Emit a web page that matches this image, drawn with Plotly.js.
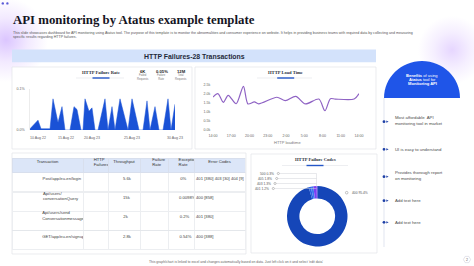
<!DOCTYPE html>
<html><head><meta charset="utf-8">
<script src="https://cdn.plot.ly/plotly-3.0.1.min.js"></script>
<style>
html,body{margin:0;padding:0;width:474px;height:266px;overflow:hidden;background:#fff;}
#bg{position:absolute;left:0;top:0;width:474px;height:266px;
background:
 radial-gradient(circle at 6px 40px, rgba(190,150,255,0.55) 0, rgba(205,170,255,0.25) 22px, rgba(205,170,255,0) 42px),
 radial-gradient(circle at 452px 50px, rgba(200,165,255,0.45) 0, rgba(200,165,255,0.18) 18px, rgba(200,165,255,0) 34px);}
#chart{position:absolute;left:0;top:0;width:474px;height:266px;}
#tbl{position:absolute;left:0;top:0;width:1896px;height:1064px;transform:scale(0.25);transform-origin:0 0;pointer-events:none;}
</style></head><body><div id="bg"></div><div id="chart"></div><div id="tbl"></div>
<script>
// ---------- data ----------
const failureIdx  = [0,8,11,20,23,28,32,35,40,44,47,51,53,55,59,62,65,68,75,78,82,85,90,98,102,109,113,117,120,125,129,133,138,141,145];
const failureRate = [0.003,0.024,0.003,0.003,0.076,0.018,0.057,0,0,0.057,0.05,0,0,0.076,0.046,0.054,0,0,0.076,0,0.057,0,0.076,0,0.076,0,0,0.071,0,0.057,0,0,0.076,0,0.063];
const failureTickPos  = [8,36,62,102,145];
const failureTickText = ['10 Aug 22','15 Aug 22','20 Aug 23','25 Aug 23','30 Aug 23'];
const rateTickVals = [0,0.1];
const rateTickText = ['0.0%','0.1%'];

const statValues = ['6K','0.05%','12M'];
const statLabels = ['Failed<br>Requests','Failure<br>Rate','Total<br>Requests'];

const loadHours = [0,0.8,1.7,2.5,3.8,5.0,5.75,6.8,7.5,10.5,11.9,13.6,15.2,17.4,18.4,19.3,20.1,23.2,24];
const loadTimeK = [1.79,1.98,1.5,1.89,1.42,2.39,1.41,1.52,1.41,1.78,1.59,1.83,1.41,1.68,1.03,1.7,1.68,1.68,1.98];
const hourTickVals = [0,3,6,9,12,15,18,21,24];
const hourTickText = ['14:00','17:00','20:00','23:00','2:00','5:00','8:00','11:00','14:00'];
const loadTickVals = [0,0.5,1,1.5,2,2.5];
const loadTickText = ['0.0k','0.5k','1.0k','1.5k','2.0k','2.5k'];

const tableHeader   = ['Transaction','HTTP<br>Failures','Throughput','Failure<br>Rate','Exception<br>Rate','Error Codes'];
const transactions  = ['Post/app/eu-en/login','Api/users/<br>conversationQuery','Api/users/send<br>Conversationmessage','GET/app/eu-en/signup'];
const httpFailures  = ['3k','2k','475','248'];
const failureBarLevel = [0.88,0.38,0.97,1.0];
const throughput    = ['5.6k','15k','2k','2.8k'];
const failureRates  = ['40%','21%','27%','8%'];
const failureRateBarLevel = [1.0,0.38,0.46,0.09];
const exceptionRate = ['0%','0.0098%','0.2%','0.54%'];
const errorCodes    = ['401 [380] 403 [30] 404 [9]','400 [858]','401 [380]','400 [388]'];

const codeLabels = ['400','401','403','405','500'];
const codeShare  = [95.4,1.2,1.3,1.8,0.3];
const codeColors = ['#1546b8','#2a64e4','#3d78ef','#7b3ff2','#9a4dff'];

const benefits = ['Most affordable  API<br>monitoring tool in market','UI is easy to understand','Provides thorough report<br>on monitoring','Add text here','Add text here'];

// ---------- helpers ----------
const W=474,H=266,S=4;
const X=v=>v/W, Y=v=>1-v/H;
const SANS='Liberation Sans, Arial, sans-serif';
const SERIF='Liberation Serif, Times New Roman, serif';
const shapes=[], annotations=[];
function rect(x0,y0,x1,y1,fill,lc,lw,layer){shapes.push({type:'rect',xref:'paper',yref:'paper',x0:X(x0),x1:X(x1),y0:Y(y1),y1:Y(y0),fillcolor:fill,line:{color:lc||'rgba(0,0,0,0)',width:lw||0},layer:layer||'below'});}
function seg(x0,y0,x1,y1,color,w){shapes.push({type:'line',xref:'paper',yref:'paper',x0:X(x0),x1:X(x1),y0:Y(y0),y1:Y(y1),line:{color:color,width:w}});}
function circ(cx,cy,r,fill,lc,lw){shapes.push({type:'circle',xref:'paper',yref:'paper',x0:X(cx-r),x1:X(cx+r),y0:Y(cy+r),y1:Y(cy-r),fillcolor:fill,line:{color:lc||'rgba(0,0,0,0)',width:lw||0}});}
function poly(pts,fill,lc,lw){shapes.push({type:'path',xref:'paper',yref:'paper',path:pts.map((p,i)=>(i?'L':'M')+X(p[0])+','+Y(p[1])).join(' ')+' Z',fillcolor:fill,line:{color:lc||'rgba(0,0,0,0)',width:lw||0}});}
function txt(x,y,t,size,color,o){o=o||{};annotations.push({xref:'paper',yref:'paper',x:X(x),y:Y(y),text:t,showarrow:false,font:{size:size,color:color,family:o.family||SANS},xanchor:o.xa||'center',yanchor:o.ya||'middle',align:o.align||'center'});}

// ---------- decorations ----------
circ(2.8,3.4,1.2,'#5a5ad8'); circ(7.4,3.4,1.2,'#5a5ad8');
txt(11,19.5,'<b>API monitoring by Atatus example template</b>',12.8,'#15151f',{family:SERIF,xa:'left'});
txt(11,33,'This slide showcases dashboard for API monitoring using Atatus tool. The purpose of this template is to monitor the abnormalities and consumer experience on website. It helps in providing business teams with required data by collecting and measuring',3.6,'#555',{xa:'left'});
txt(11,37.5,'specific results regarding HTTP failures.',3.6,'#555',{xa:'left'});

rect(12,49.5,376,62.3,'#d3e2fb');
txt(194,56,'<b>HTTP Failures-28 Transactions</b>',6.9,'#1f2a3a');

// panels
rect(12,67,192,149,'#ffffff','#e2e4e8',0.7);
rect(195,67,376,149,'#ffffff','#e2e4e8',0.7);
rect(12,153,246,254,'#ffffff','#e2e4e8',0.7);
rect(251,154,377,253,'#ffffff','#e2e4e8',0.7);

// panel titles
function panelTitle(cx,y,t,g0,g1){
  txt(cx,y,'<b>'+t+'</b>',4.6,'#2a2f3a',{family:SERIF});
  seg(g0,y+6,g1,y+6,'#e1e3e8',0.6);
  seg(cx-8.5,y+6,cx+8.5,y+6,'#2456c8',1.4);
}
panelTitle(101,72,'HTTP Failure Rate',76,124);
panelTitle(285.7,72,'HTTP Load Time',257,312);
panelTitle(315,159.5,'HTTP Failure Codes',282,348);

const statX=[142.5,161.7,181.2];
statValues.forEach((v,i)=>{txt(statX[i],71.5,'<b>'+v+'</b>',4.2,'#222');txt(statX[i],76.8,statLabels[i],2.7,'#777');});

txt(287,142,'HTTP loadtime',4,'#777');

// pie leader labels
const leftOrder=[4,3,2,1];
const leftY=[173.5,178.5,183.5,188.5];
const circX=[278.3,276.7,275,273.3];
leftOrder.forEach((k,j)=>{
  txt(circX[j]-2.4,leftY[j],codeLabels[k]+' '+codeShare[k]+'%',3.3,'#555',{xa:'right'});
  seg(circX[j]+1.1,leftY[j],316.5,leftY[j],'#d0d3d9',0.5);
  circ(circX[j],leftY[j],1.05,'#ffffff','#888',0.5);
});
seg(316.5,173.5,316.5,186.5,'#d0d3d9',0.5);
circ(346.7,192.7,1.3,'#ffffff','#888',0.5);
txt(349.6,192.7,codeLabels[0]+' '+codeShare[0]+'%',3.3,'#555',{xa:'left'});

// right side benefits
const k=0.5523;
shapes.push({type:'path',xref:'paper',yref:'paper',
  path:'M'+X(384)+','+Y(98)+' C'+X(384)+','+Y(98-37*k)+' '+X(422-38*k)+','+Y(61)+' '+X(422)+','+Y(61)+
       ' C'+X(422+38*k)+','+Y(61)+' '+X(460)+','+Y(98-37*k)+' '+X(460)+','+Y(98)+' Z',
  fillcolor:'#1f55e8',line:{width:0}});
txt(422,75.7,'<b>Benefits</b> of using',4.1,'#ffffff');
txt(422,79.7,'<b>Atatus</b> tool for',4.1,'#ffffff');
txt(422,83.7,'<b>Monitoring API</b>',4.1,'#ffffff');
seg(384,98,384,247,'#ccd5e6',0.6);
const bulletY=[121.7,149.3,176.7,200.7,222.3];
benefits.forEach((b,i)=>{
  circ(384,bulletY[i],1.4,'#1d3fa6');
  poly([[386.3,bulletY[i]-1.1],[388.6,bulletY[i]],[386.3,bulletY[i]+1.1]],'#1d3fa6');
  txt(393,bulletY[i]+(b.indexOf('<br>')>0?-1.2:0),b,4.3,'#4a4a4a',{xa:'left',align:'left'});
});

// footer + page number
txt(236,262,"This graph/chart is linked to excel and changes automatically based on data. Just left click on it and select 'edit data'",3.4,'#666');
const hx=467,hy=259.5,hr=3.6;
poly([0,1,2,3,4,5].map(i=>[hx+hr*Math.cos(Math.PI/3*i),hy+hr*Math.sin(Math.PI/3*i)]),'#ffffff','#c9c9d6',0.5);
txt(hx,hy,'2',3.6,'#666');

// ---------- main traces ----------
const tickFont={size:3.6,color:'#666',family:SANS};
const traces=[
 {type:'scatter',mode:'lines',x:failureIdx,y:failureRate,fill:'tozeroy',fillcolor:'#1a52d6',line:{color:'#1a52d6',width:0.5},xaxis:'x',yaxis:'y',hoverinfo:'none'},
 {type:'scatter',mode:'lines',x:loadHours,y:loadTimeK,line:{color:'#8f63c4',width:1.2,shape:'spline',smoothing:0.8},xaxis:'x2',yaxis:'y2',hoverinfo:'none'},
 {type:'pie',labels:codeLabels,values:codeShare,hole:0.59,sort:false,direction:'clockwise',rotation:0,marker:{colors:codeColors,line:{width:0}},textinfo:'none',hoverinfo:'none',domain:{x:[X(287),X(347.5)],y:[Y(246.5),Y(186)]}}
];
const layout={
 width:W,height:H,margin:{l:0,r:0,t:0,b:0},paper_bgcolor:'rgba(0,0,0,0)',plot_bgcolor:'rgba(0,0,0,0)',showlegend:false,
 xaxis:{domain:[X(30),X(175)],range:[0,145],tickvals:failureTickPos,ticktext:failureTickText,tickfont:tickFont,showgrid:false,zeroline:false,ticks:'outside',ticklen:4,tickcolor:'rgba(0,0,0,0)',showline:false},
 yaxis:{domain:[Y(130),Y(89)],range:[0,0.1],tickvals:rateTickVals,ticktext:rateTickText,tickfont:tickFont,showgrid:false,zeroline:false,ticks:'outside',ticklen:4,tickcolor:'rgba(0,0,0,0)',showline:true,linecolor:'#e0e0e0',linewidth:0.6},
 xaxis2:{domain:[X(213),X(359)],range:[0,24],tickvals:hourTickVals,ticktext:hourTickText,tickfont:tickFont,showgrid:false,zeroline:false,ticks:'outside',ticklen:2,tickcolor:'rgba(0,0,0,0)',anchor:'y2'},
 yaxis2:{domain:[Y(129.3),Y(84.3)],range:[0,2.5],tickvals:loadTickVals,ticktext:loadTickText,tickfont:tickFont,showgrid:false,zeroline:false,ticks:'outside',ticklen:1,tickcolor:'rgba(0,0,0,0)',anchor:'x2'},
 shapes:shapes,annotations:annotations
};
Plotly.newPlot('chart',traces,layout,{staticPlot:true,displayModeBar:false});

// ---------- table (drawn at 4x, scaled down by CSS) ----------
// Plotly tables top-align text; single-line cells get one leading break so they sit mid-row.
const mid=s=>(s===''||s.indexOf('<br>')>=0)?s:'<br>'+s;
const nb=s=>s.replace(/ /g,'\u00a0');
const blank=['','','',''];
const tFont={size:4.2*S,color:'#444',family:SANS};
const tblTraces=[
 {type:'table',domain:{x:[X(12),X(245)],y:[Y(250),Y(158)]},columnwidth:[71,25,32,28,26,51],
  header:{values:tableHeader,fill:{color:'#dce6f8'},line:{color:'#d5dbe6',width:0.6*S},font:{size:4.2*S,color:'#333',family:SANS},height:14.7*S,align:'center'},
  cells:{values:[transactions.map(mid),blank,throughput.map(mid),blank,exceptionRate.map(mid),errorCodes.map(nb).map(mid)],fill:{color:'#ffffff'},line:{color:'#dfe2e8',width:0.6*S},font:tFont,height:19.3*S,align:['center','center','center','center','center','left']}},
 {type:'bar',orientation:'h',x:failureBarLevel,y:[0,1,2,3],width:0.12,marker:{color:'#1f4fd1'},text:httpFailures,textposition:'outside',constraintext:'none',cliponaxis:false,textfont:tFont,xaxis:'x',yaxis:'y',hoverinfo:'none'},
 {type:'bar',orientation:'h',x:failureRateBarLevel,y:[0,1,2,3],width:0.12,marker:{color:'#1f4fd1'},text:failureRates,textposition:'outside',constraintext:'none',cliponaxis:false,textfont:tFont,xaxis:'x2',yaxis:'y2',hoverinfo:'none'}
];
const hid={visible:false,fixedrange:true};
const tblLayout={
 width:W*S,height:H*S,margin:{l:0,r:0,t:0,b:0},paper_bgcolor:'rgba(0,0,0,0)',plot_bgcolor:'rgba(0,0,0,0)',showlegend:false,
 xaxis:Object.assign({domain:[X(84),X(95.7)],range:[0,1],anchor:'y'},hid),
 yaxis:Object.assign({domain:[Y(250),Y(172.7)],range:[3.5,-0.5],anchor:'x'},hid),
 xaxis2:Object.assign({domain:[X(141.7),X(153.3)],range:[0,1],anchor:'y2'},hid),
 yaxis2:Object.assign({domain:[Y(250),Y(172.7)],range:[3.5,-0.5],anchor:'x2'},hid)
};
Plotly.newPlot('tbl',tblTraces,tblLayout,{staticPlot:true,displayModeBar:false});
</script></body></html>
